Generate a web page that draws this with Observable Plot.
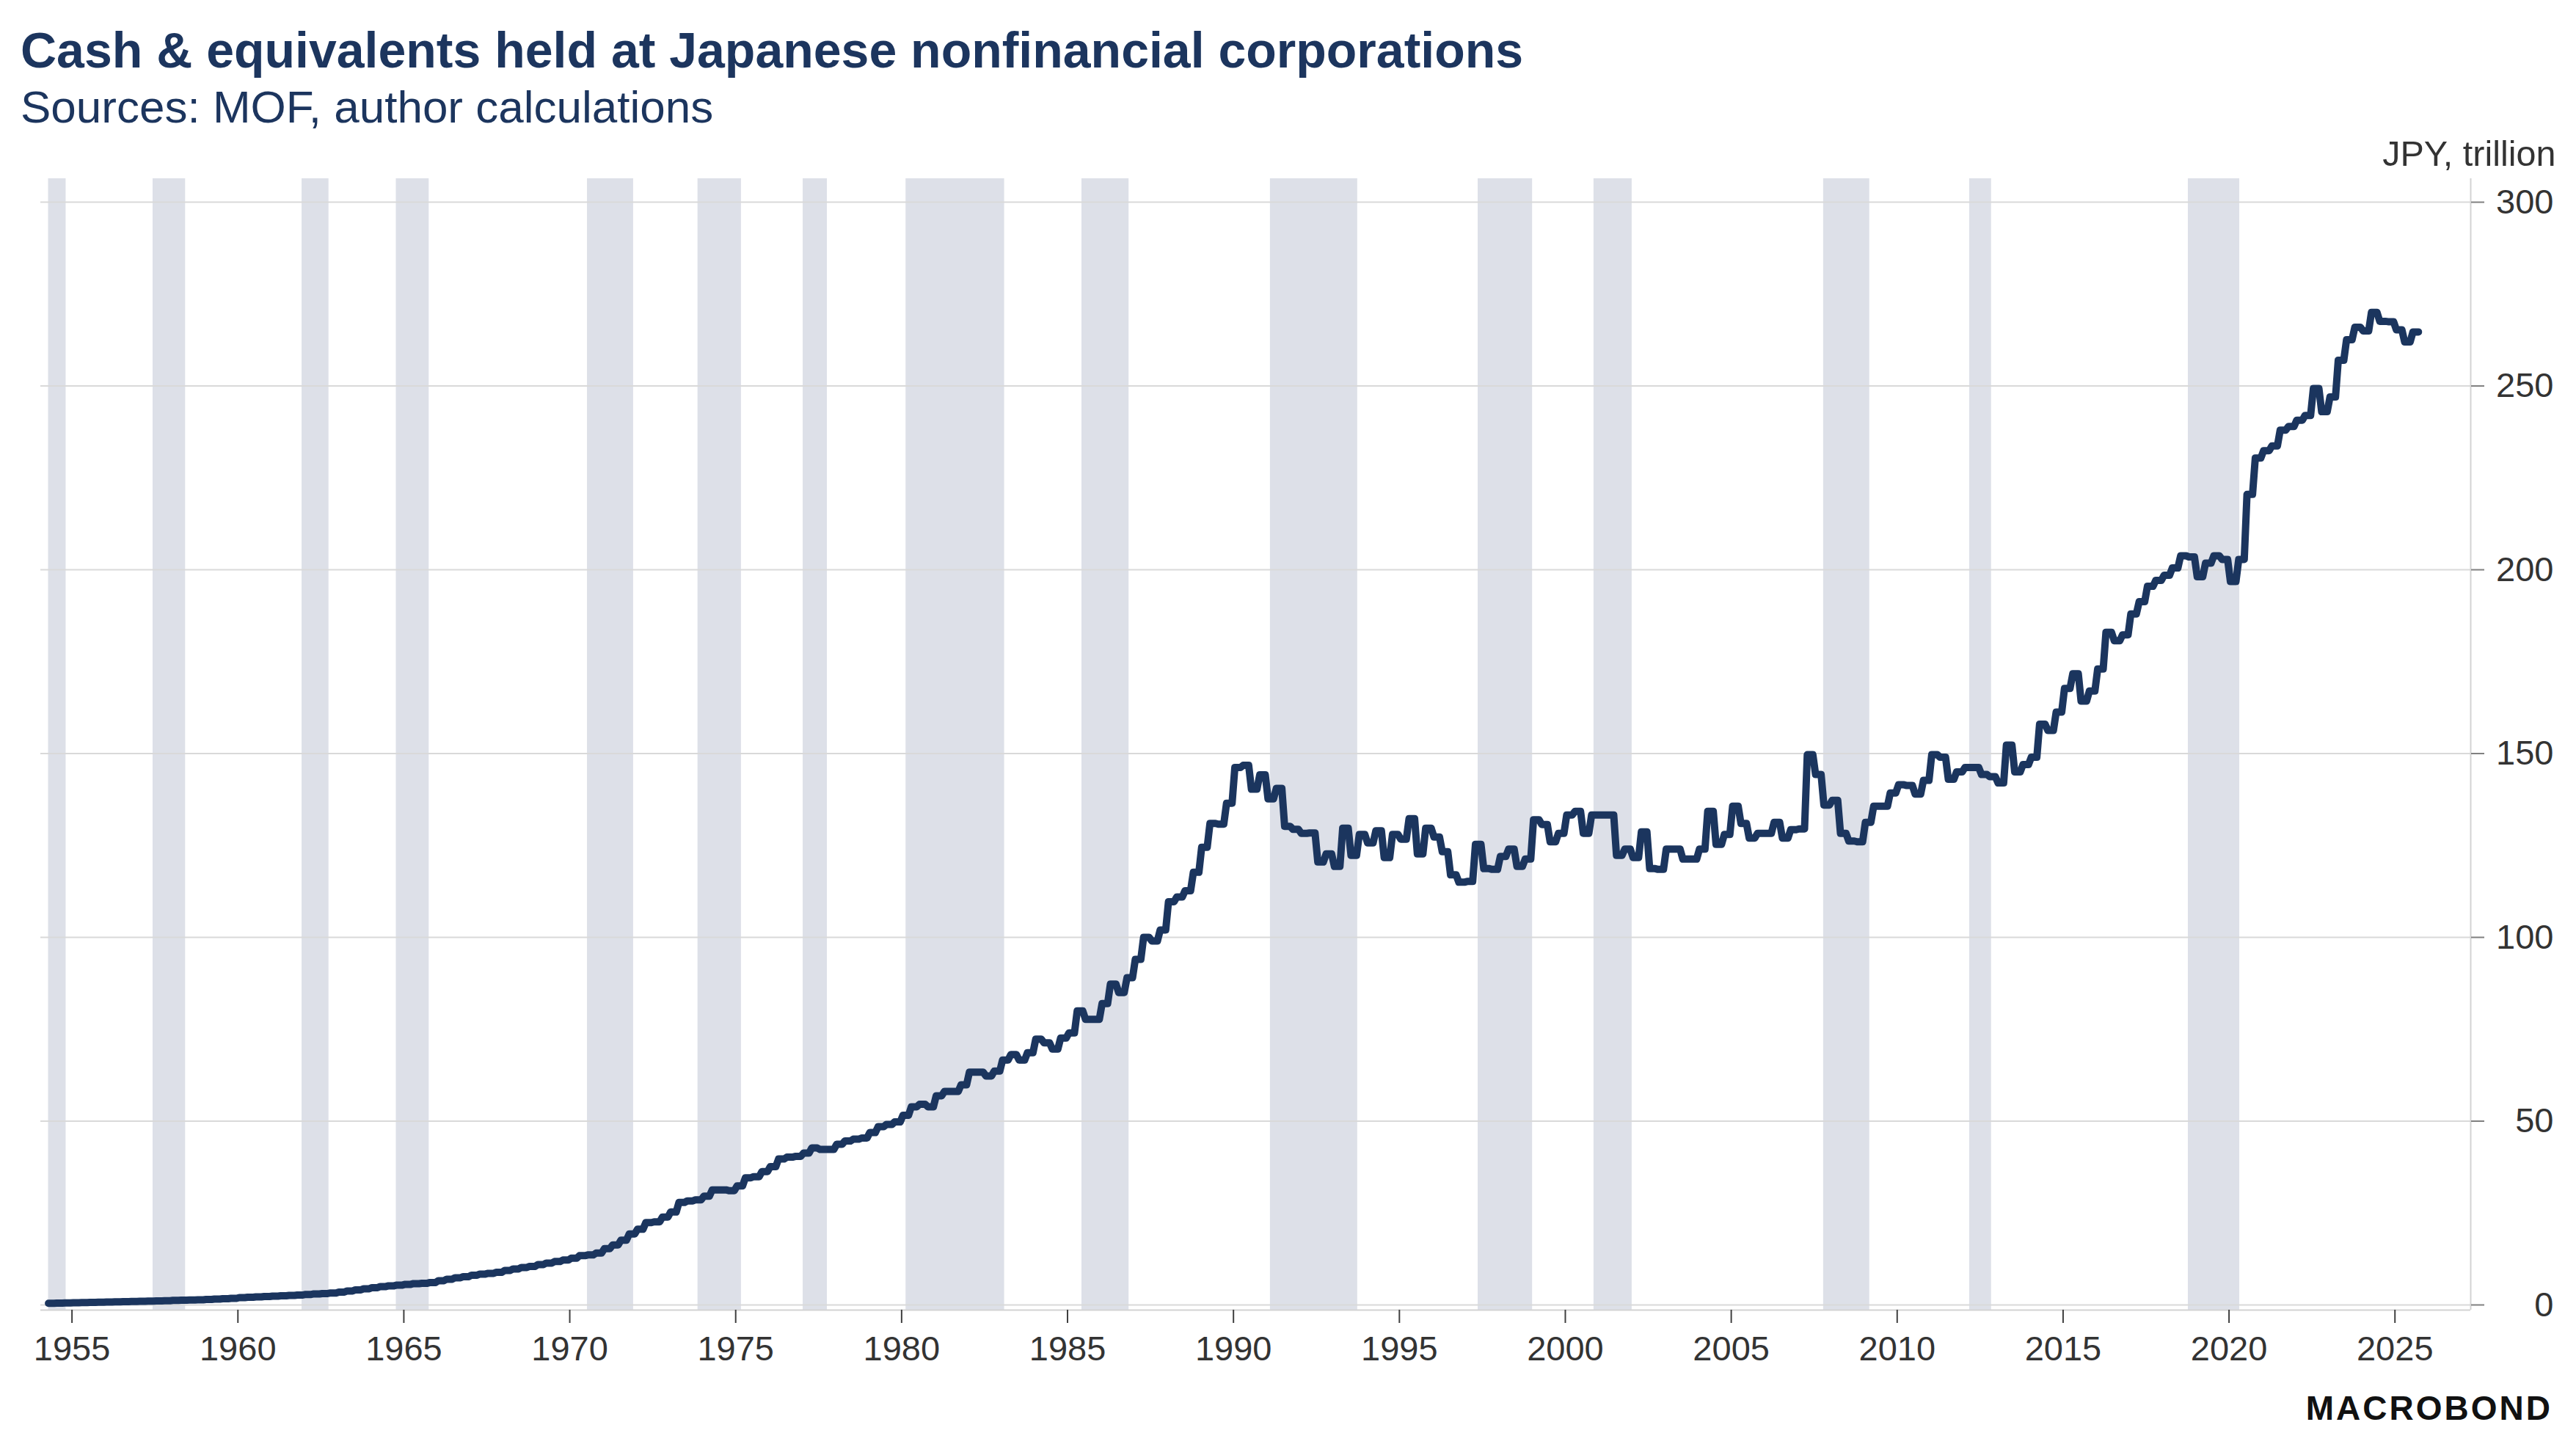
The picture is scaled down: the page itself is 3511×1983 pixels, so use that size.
<!DOCTYPE html>
<html>
<head>
<meta charset="utf-8">
<script src="https://cdn.jsdelivr.net/npm/d3@7"></script>
<script src="https://cdn.jsdelivr.net/npm/@observablehq/plot@0.6"></script>
<style>
  html, body { margin: 0; padding: 0; background: #ffffff; }
  #page { position: relative; width: 3511px; height: 1983px; overflow: hidden;
          font-family: "Liberation Sans", Arial, sans-serif; }
  #title { position: absolute; left: 28px; top: 34px; font-size: 68px; line-height: 68px;
           font-weight: bold; color: #1c355e; white-space: nowrap; }
  #subtitle { position: absolute; left: 28px; top: 115px; font-size: 62px; line-height: 62px;
              color: #1c355e; white-space: nowrap; }
  #chart { position: absolute; left: 0; top: 180px; }
  #logo { position: absolute; right: 32px; top: 1896px; font-size: 46px; line-height: 46px;
          font-weight: bold; color: #111111; letter-spacing: 3px; }
</style>
</head>
<body>
<div id="page">
  <div id="title">Cash &amp; equivalents held at Japanese nonfinancial corporations</div>
  <div id="subtitle">Sources: MOF, author calculations</div>
  <div id="chart"></div>
  <div id="logo">MACROBOND</div>
</div>
<script>
// Quarterly cash & deposits of nonfinancial corporations, JPY trillion.
// The series starts in 1954 Q2; each array below holds consecutive quarters.
const firstYear = 1954;
const firstQuarter = 2;

const cash1950s = [
  0.45, 0.5, 0.55,
  0.6, 0.65, 0.7, 0.75,
  0.8, 0.85, 0.9, 0.95,
  1.0, 1.05, 1.1, 1.15,
  1.25, 1.3, 1.35, 1.4,
  1.5, 1.6, 1.7, 1.8
];
const cash1960s = [
  2.0, 2.1, 2.2, 2.3,
  2.4, 2.5, 2.6, 2.7,
  2.85, 3.0, 3.1, 3.25,
  3.5, 3.8, 4.1, 4.4,
  4.7, 5.0, 5.2, 5.4,
  5.6, 5.8, 5.9, 6.1,
  6.6, 7.0, 7.4, 7.7,
  8.1, 8.4, 8.6, 8.9,
  9.4, 9.8, 10.2, 10.5,
  11.0, 11.4, 11.8, 12.2
];
const cash1970s = [
  12.7, 13.4, 13.6, 14.1,
  15.3, 16.3, 17.6, 19.3,
  20.6, 22.4, 22.6, 23.9,
  25.3, 27.9, 28.3, 28.6,
  29.6, 31.3, 31.3, 31.1,
  32.4, 34.6, 34.9, 36.3,
  37.6, 39.7, 40.2, 40.4,
  41.3, 42.7, 42.3, 42.3,
  43.7, 44.6, 45.1, 45.4,
  46.9, 48.5, 49.1, 49.8
];
const cash1980s = [
  51.6, 53.9, 54.6, 53.9,
  56.9, 58.1, 58.1, 59.9,
  63.3, 63.3, 62.3, 63.6,
  66.6, 68.1, 66.6, 68.6,
  72.3, 71.3, 69.6, 72.6,
  74.0, 80.0, 77.7, 77.7,
  82.0, 87.3, 85.0, 89.0,
  94.0, 100.0, 99.0, 102.0,
  109.7, 111.0, 112.7, 117.7,
  124.5, 131.0, 130.8, 136.5
];
const cash1990s = [
  146.2, 146.8, 140.3, 144.2,
  137.7, 140.5, 130.2, 129.4,
  128.3, 128.4, 120.5, 122.7,
  119.3, 129.7, 122.3, 128.0,
  125.7, 129.0, 121.7, 128.0,
  126.7, 132.3, 122.7, 129.7,
  127.3, 123.3, 117.0, 115.0,
  115.2, 125.3, 118.7, 118.5,
  122.0, 124.0, 119.3, 121.3,
  132.0, 130.7, 126.0, 128.3
];
const cash2000s = [
  133.3, 134.3, 128.3, 133.3,
  133.3, 133.3, 122.3, 124.0,
  121.7, 128.7, 118.7, 118.5,
  124.0, 124.0, 121.3, 121.3,
  124.0, 134.3, 125.3, 128.0,
  135.7, 131.0, 127.0, 128.3,
  128.3, 131.3, 127.0, 129.3,
  129.5, 149.7, 144.3, 136.0,
  137.3, 128.3, 126.2, 126.0,
  131.3, 135.7, 135.7, 139.3
];
const cash2010s = [
  141.5, 141.3, 139.0, 142.7,
  149.7, 149.0, 143.0, 145.0,
  146.2, 146.2, 144.3, 143.7,
  142.0, 152.3, 145.0, 147.0,
  149.0, 158.0, 156.3, 161.3,
  167.7, 171.7, 164.3, 167.0,
  173.0, 183.0, 180.7, 182.3,
  188.0, 191.3, 195.5, 197.1,
  198.5, 200.5, 203.8, 203.5,
  198.1, 201.8, 203.8, 202.8
];
const cash2020s = [
  196.8, 202.8, 220.5, 230.4,
  232.4, 233.7, 238.0, 239.0,
  240.7, 242.0, 249.3, 243.0,
  247.0, 257.0, 262.6, 266.0,
  265.0, 270.0, 267.6, 267.5,
  265.3, 262.0, 264.7
];

// Recession periods (decimal years), shaded behind the series.
const recessionStart = [1954.29, 1957.44, 1961.93, 1964.77, 1970.53, 1973.86, 1977.03, 1980.13,
                        1985.43, 1991.11, 1997.37, 2000.86, 2007.78, 2012.18, 2018.77];
const recessionEnd   = [1954.82, 1958.42, 1962.74, 1965.76, 1971.92, 1975.17, 1977.76, 1983.10,
                        1986.85, 1993.74, 1999.01, 2002.01, 2009.17, 2012.84, 2020.32];

// Axes
const xTicks = [1955, 1960, 1965, 1970, 1975, 1980, 1985, 1990, 1995, 2000, 2005, 2010, 2015, 2020, 2025];
const yTicks = [0, 50, 100, 150, 200, 250, 300];
const xDomain = [1954.058, 2027.283];
const yDomain = [-1.4, 306.4];
const yUnit = "JPY, trillion";

const values = [].concat(cash1950s, cash1960s, cash1970s, cash1980s, cash1990s, cash2000s, cash2010s, cash2020s);
// Each quarter is anchored at the middle of its first month.
const series = values.map((v, i) => ({t: firstYear + (firstQuarter - 1 + i) / 4 + 1 / 24, v}));
const recessions = recessionStart.map((s, i) => ({start: s, end: recessionEnd[i]}));

// A quarterly value holds flat through the quarter's three months and moves
// to the next quarter's level over the month in between.
function quarterHold(context) {
  let pts = [];
  return {
    areaStart() {},
    areaEnd() {},
    lineStart() { pts = []; },
    lineEnd() {
      if (!pts.length) return;
      context.moveTo(pts[0][0], pts[0][1]);
      for (let i = 0; i < pts.length; i++) {
        const [x, y] = pts[i];
        const span = i + 1 < pts.length ? pts[i + 1][0] - x : (i > 0 ? x - pts[i - 1][0] : 0);
        context.lineTo(x + span * 2 / 3, y);
        if (i + 1 < pts.length) context.lineTo(pts[i + 1][0], pts[i + 1][1]);
      }
    },
    point(x, y) { pts.push([+x, +y]); }
  };
}

const navy = "#1b355e";
const textGray = "#333333";

const chart = Plot.plot({
  width: 3511,
  height: 1700,
  marginLeft: 55,
  marginRight: 144,
  marginTop: 63,
  marginBottom: 95,
  style: {fontFamily: "'Liberation Sans', Arial, sans-serif", fontSize: "47px", color: textGray, background: "#ffffff"},
  x: {domain: xDomain},
  y: {domain: yDomain},
  marks: [
    Plot.rect(recessions, {x1: "start", x2: "end", fill: "#dde0e8"}),
    Plot.gridY(yTicks, {stroke: "#d9d9d9", strokeOpacity: 1, strokeWidth: 2}),
    Plot.ruleY([yDomain[0]], {stroke: "#d3d3d3", strokeWidth: 2}),
    Plot.ruleX([xDomain[1]], {stroke: "#d3d3d3", strokeWidth: 2}),
    Plot.line(series, {x: "t", y: "v", curve: quarterHold, stroke: navy, strokeWidth: 10,
                       strokeLinejoin: "round", strokeLinecap: "round"}),
    Plot.axisY(yTicks, {anchor: "right", tickSize: 18, tickPadding: 95, textAnchor: "end",
                        tickFormat: d => String(d), label: null,
                        stroke: "#808080", strokeWidth: 2, fill: textGray}),
    Plot.axisX(xTicks, {anchor: "bottom", tickSize: 18, tickPadding: 17,
                        tickFormat: d => String(d), label: null,
                        stroke: "#404040", strokeWidth: 2, fill: textGray}),
    Plot.text([yUnit], {frameAnchor: "top-right", dx: 116, dy: -18, textAnchor: "end",
                        lineAnchor: "bottom", fontSize: 48.5, fill: textGray})
  ]
});
document.getElementById("chart").appendChild(chart);
</script>
</body>
</html>
